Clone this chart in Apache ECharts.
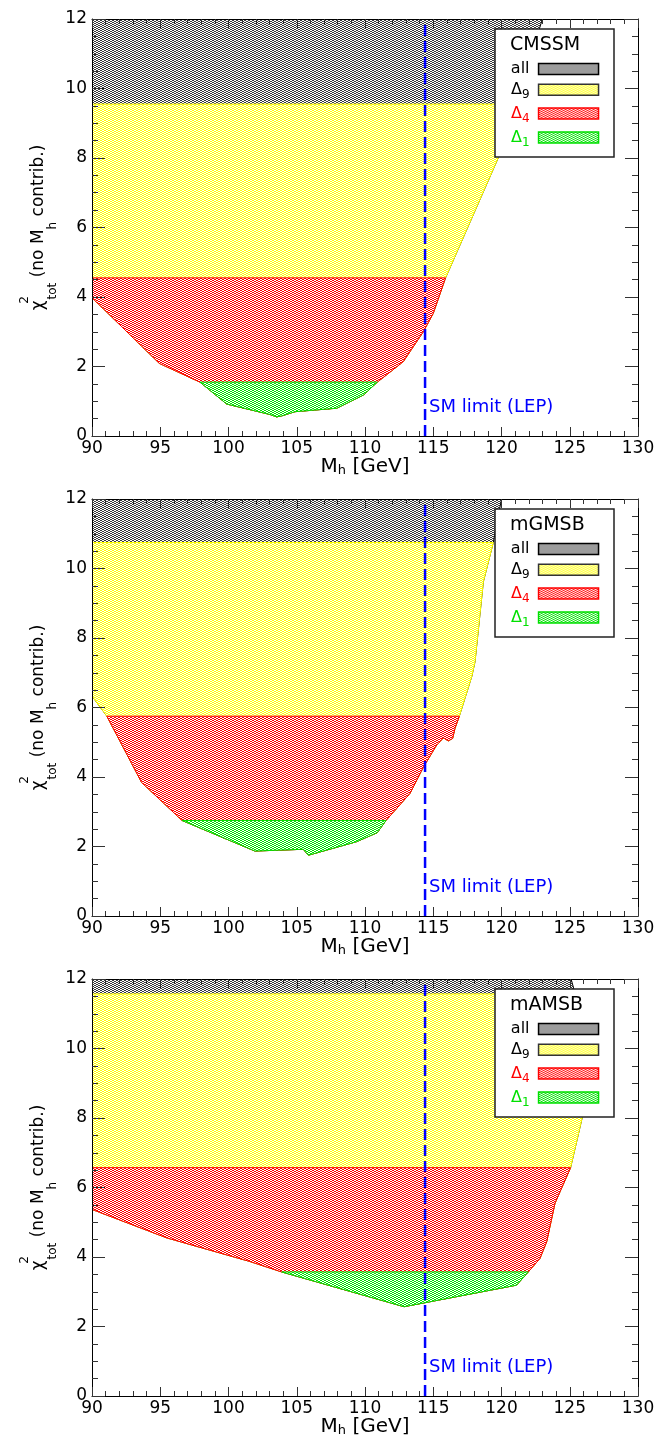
<!DOCTYPE html>
<html><head><meta charset="utf-8">
<script src="https://cdn.jsdelivr.net/npm/echarts@6/dist/echarts.min.js"></script>
<style>html,body{margin:0;padding:0;background:#fff}#c{width:660px;height:1450px}</style>
</head><body><div id="c"></div>
<script>
// ---------- data ----------
const panelNames = ['CMSSM', 'mGMSB', 'mAMSB'];
const regionNames = ['all', 'Δ9', 'Δ4', 'Δ1'];
const xRange = [90, 130];
const xStep = 5;
const yRange = [0, 12];
const yStep = 2;
const smLimit = 114.4;
const smTop = 11.9;
const smLabelY = 0.82;
const smLabel = 'SM limit (LEP)';

// lower envelope of chi2 vs M_h
const cmssmCurve = [[90, 3.98], [94.93, 2.09], [97.91, 1.55], [99.87, 0.92], [103.04, 0.62], [103.53, 0.55], [103.9, 0.58], [104.87, 0.70], [107.93, 0.80], [109.88, 1.18], [110.9, 1.55], [112.8, 2.14], [114.27, 3.0], [115.0, 3.53], [115.9, 4.55], [119.8, 8.04], [121.5, 9.55], [122.8, 11.75], [123.0, 12]];
const mgmsbCurve = [[90, 6.33], [91.09, 5.75], [93.64, 3.84], [96.6, 2.75], [101.94, 1.87], [105.48, 1.92], [105.85, 1.75], [109.39, 2.14], [110.9, 2.40], [111.54, 2.75], [113.3, 3.53], [114.27, 4.28], [115.25, 4.92], [115.5, 5.02], [115.74, 5.13], [116.1, 5.04], [116.42, 5.11], [116.59, 5.40], [116.91, 5.75], [117.82, 6.89], [118.06, 7.32], [118.67, 9.62], [119.4, 10.75], [120.0, 12]];
const mamsbCurve = [[90, 5.37], [95.48, 4.55], [101.58, 3.87], [103.9, 3.57], [112.86, 2.57], [121.1, 3.19], [121.96, 3.57], [122.82, 3.96], [123.31, 4.44], [123.92, 5.55], [125.06, 6.57], [125.93, 8.04], [126.4, 9.3], [126.0, 10.8], [125.4, 11.57], [125.1, 12]];
// upper cut of each region: all, Δ9, Δ4, Δ1
const cmssmCuts = [12, 9.55, 4.55, 1.55];
const mgmsbCuts = [12, 10.75, 5.75, 2.75];
const mamsbCuts = [12, 11.57, 6.57, 3.57];

const curves = [cmssmCurve, mgmsbCurve, mamsbCurve];
const cuts = [cmssmCuts, mgmsbCuts, mamsbCuts];

// ---------- style ----------
const FONT = 'DejaVu Sans';
const regionDot = ['#3a3a3a', '#ffff00', '#ff0000', '#00e000'];
const regionStroke = ['#000000', '#ffff00', '#ff0000', '#00e000'];
const legendBorder = ['#000000', '#333333', '#ff0000', '#00e000'];
const legendText = ['#000000', '#000000', '#ff0000', '#00e000'];
const panelTop = [19, 499, 979];
const gridLeft = 92, gridW = 546, gridH = 417;

function makePattern(color) {
  const c = document.createElement('canvas');
  c.width = 4; c.height = 2;
  const g = c.getContext('2d');
  g.fillStyle = '#ffffff'; g.fillRect(0, 0, 4, 2);
  g.fillStyle = color; g.fillRect(0, 0, 2, 1); g.fillRect(2, 1, 2, 1);
  return { image: c, repeat: 'repeat' };
}
const patterns = regionDot.map(makePattern);

function regionVerts(curve, cut) {
  const inside = curve.filter(p => p[1] <= cut + 1e-9);
  const first = inside[0], last = inside[inside.length - 1];
  return inside.concat([[last[0], cut], [first[0], cut]]);
}

const chart = echarts.init(document.getElementById('c'), null, { renderer: 'canvas' });

const grids = [], xAxes = [], yAxes = [], series = [], legends = [], graphics = [];
const tickCol = '#333';

panelNames.forEach((pname, p) => {
  grids.push({ left: gridLeft, top: panelTop[p], width: gridW, height: gridH, outerBoundsMode: 'none', containLabel: false });
  const xBase = {
    type: 'value', gridIndex: p, min: xRange[0], max: xRange[1], interval: xStep, z: 4,
    axisLine: { show: true, onZero: false, lineStyle: { color: '#000', width: 1 } },
    axisTick: { show: true, inside: true, length: 9, lineStyle: { color: tickCol, width: 1 } },
    minorTick: { show: true, splitNumber: 5, length: 5, lineStyle: { color: tickCol, width: 1 } },
    splitLine: { show: false }, minorSplitLine: { show: false }
  };
  xAxes.push(Object.assign({}, xBase, {
    position: 'bottom',
    axisLabel: { show: true, margin: 4, fontSize: 17, color: '#000', fontFamily: FONT },
    name: '{m|M}{s|h}{m| [GeV]}', nameLocation: 'middle', nameGap: 19.5, nameMoveOverlap: false,
    nameTextStyle: { color: '#000', fontFamily: FONT, rich: {
      m: { fontSize: 20, lineHeight: 22, color: '#000', fontFamily: FONT },
      s: { fontSize: 13, lineHeight: 12, verticalAlign: 'bottom', color: '#000', fontFamily: FONT }
    } }
  }));
  xAxes.push(Object.assign({}, xBase, { position: 'top', axisLabel: { show: false } }));

  const yBase = {
    type: 'value', gridIndex: p, min: yRange[0], max: yRange[1], interval: yStep, z: 4,
    axisLine: { show: true, onZero: false, lineStyle: { color: '#000', width: 1 } },
    axisTick: { show: true, inside: true, length: 13, lineStyle: { color: tickCol, width: 1 } },
    minorTick: { show: true, splitNumber: 4, length: 6, lineStyle: { color: tickCol, width: 1 } },
    splitLine: { show: false }, minorSplitLine: { show: false }
  };
  yAxes.push(Object.assign({}, yBase, {
    position: 'left',
    axisLabel: { show: true, margin: 5, fontSize: 17, color: '#000', fontFamily: FONT },
    name: '{m|χ}{sup|2}{s|tot}{m| (no M}{s|h}{m| contrib.)}',
    nameLocation: 'middle', nameRotate: 90, nameGap: 33, nameMoveOverlap: false,
    nameTextStyle: { color: '#000', fontFamily: FONT, rich: {
      m: { fontSize: 17, lineHeight: 40, color: '#000', fontFamily: FONT },
      sup: { fontSize: 12, lineHeight: 8, verticalAlign: 'top', width: 1, color: '#000', fontFamily: FONT },
      s: { fontSize: 12, lineHeight: 32, verticalAlign: 'bottom', color: '#000', fontFamily: FONT }
    } }
  }));
  yAxes.push(Object.assign({}, yBase, { position: 'right', axisLabel: { show: false } }));

  regionNames.forEach((rname, k) => {
    const verts = regionVerts(curves[p], cuts[p][k]);
    series.push({
      type: 'custom', name: rname, xAxisIndex: 2 * p, yAxisIndex: 2 * p,
      data: verts, clip: true, z: 2, silent: true,
      renderItem: function (params, api) {
        if (params.dataIndex !== 0) return;
        const pts = verts.map(v => api.coord(v));
        return { type: 'polygon', shape: { points: pts },
          style: { fill: patterns[k], stroke: regionStroke[k], lineWidth: 1 } };
      }
    });
  });

  series.push({
    type: 'line', name: smLabel, xAxisIndex: 2 * p, yAxisIndex: 2 * p,
    data: [[smLimit, 0], [smLimit, smTop]], symbol: 'none', z: 5, silent: true,
    lineStyle: { color: '#0000ff', width: 2.5, type: [11, 5] },
    markPoint: {
      symbol: 'circle', symbolSize: 0, silent: true,
      data: [{ coord: [smLimit, smLabelY] }],
      label: { show: true, position: 'right', distance: 4, formatter: smLabel,
        color: '#0000ff', fontSize: 18, fontFamily: FONT }
    }
  });

  const rich = {};
  regionNames.forEach((n, k) => {
    rich['m' + k] = { color: legendText[k], fontSize: 16, lineHeight: 22, fontFamily: FONT };
    rich['e' + k] = { color: legendText[k], fontSize: 16, lineHeight: 22, fontFamily: FONT, padding: [0, 4, 0, 0] };
    rich['s' + k] = { color: legendText[k], fontSize: 12, lineHeight: 10, verticalAlign: 'bottom', fontFamily: FONT, padding: [0, 4, 0, 0] };
  });
  legends.push({
    orient: 'vertical', right: 60.7, top: 61 + p * 480, padding: 0,
    itemWidth: 60, itemHeight: 11, itemGap: 4.8, align: 'right', icon: 'rect',
    selectedMode: false, z: 10,
    data: regionNames.map((n, k) => ({ name: n,
      itemStyle: { color: patterns[k], borderColor: legendBorder[k], borderWidth: 1.5 },
      textStyle: { color: legendText[k] } })),
    formatter: function (name) {
      const k = regionNames.indexOf(name);
      if (k === 0) return '{e0|' + name + '}';
      return '{m' + k + '|Δ}{s' + k + '|' + name.slice(1) + '}';
    },
    textStyle: { fontFamily: FONT, fontSize: 16, rich: rich }
  });

  graphics.push({ type: 'rect', z: 8, silent: true,
    shape: { x: 495, y: 29 + p * 480, width: 119, height: 128 },
    style: { fill: '#ffffff', stroke: '#222222', lineWidth: 1.5 } });
  graphics.push({ type: 'text', z: 9, silent: true, x: 510, y: 45.5 + p * 480,
    style: { text: pname, fill: '#000', fontSize: 19, fontFamily: FONT, verticalAlign: 'middle', align: 'left' } });
});

chart.setOption({
  animation: false,
  backgroundColor: '#ffffff',
  textStyle: { fontFamily: FONT },
  grid: grids, xAxis: xAxes, yAxis: yAxes,
  legend: legends, graphic: graphics, series: series
});
</script></body></html>
